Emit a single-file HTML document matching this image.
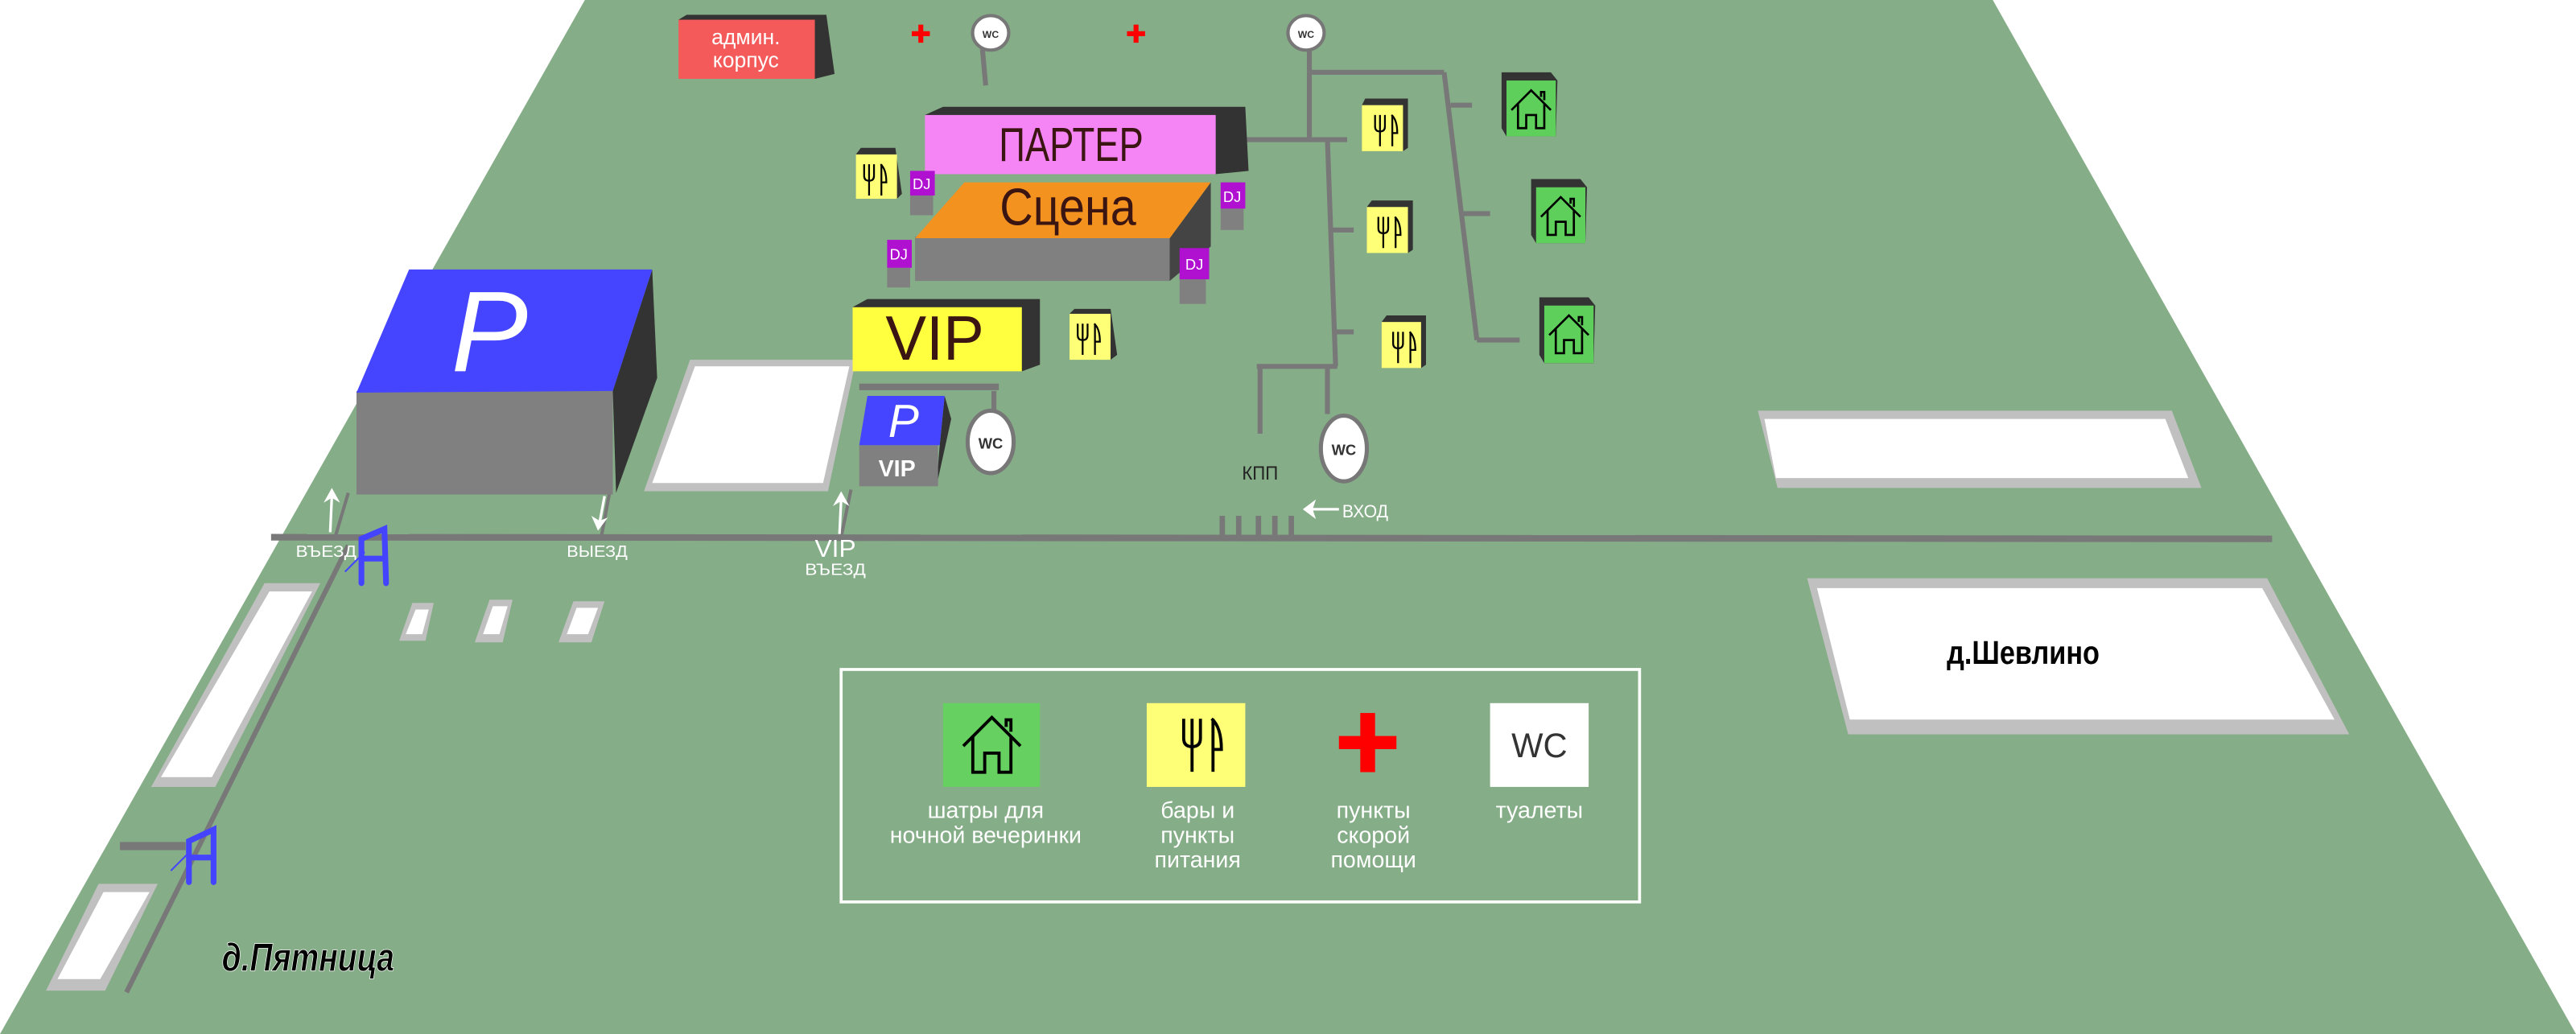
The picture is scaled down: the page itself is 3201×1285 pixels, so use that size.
<!DOCTYPE html>
<html><head><meta charset="utf-8"><style>html,body{margin:0;padding:0;background:#fff}svg{display:block}</style></head>
<body>
<svg xmlns="http://www.w3.org/2000/svg" width="3201" height="1285" viewBox="0 0 1568 629.4" preserveAspectRatio="none">
<defs>
<g id="fk"><path d="M8,5V24M5,5V12Q5,15 8,15Q11,15 11,12V5M8,5V13M15,5Q18.5,8 18.5,16H15.5M15.5,5V24" fill="none" stroke="#000" stroke-width="1.1"/></g>
<g id="hs"><path d="M3,18L15,6L27,18M21,10V7H23V12M7,14V29H12V21H18V29H23V14" fill="none" stroke="#000" stroke-width="1.3"/></g>
</defs>
<rect width="1568" height="629.4" fill="#fff"/>
<polygon points="356,0 1213,0 1568,629.4 0,629.4" fill="#85ad87"/>

<!-- roads -->
<g stroke="#787878" fill="none">
<line x1="165" y1="327" x2="1383" y2="328" stroke-width="4"/>
<line x1="212" y1="332" x2="77" y2="604" stroke-width="3"/>
<line x1="73" y1="515" x2="113" y2="515" stroke-width="5"/>
<line x1="212" y1="300" x2="204" y2="327" stroke-width="2"/>
<line x1="371" y1="300" x2="366" y2="327" stroke-width="2"/>
<line x1="518" y1="298" x2="512" y2="327" stroke-width="2"/>
<g stroke-width="3.3"><line x1="744" y1="314" x2="744" y2="328"/><line x1="754" y1="314" x2="754" y2="328"/><line x1="766" y1="314" x2="766" y2="328"/><line x1="776" y1="314" x2="776" y2="328"/><line x1="786" y1="314" x2="786" y2="328"/></g>
<g stroke-width="3">
<line x1="797" y1="30" x2="797" y2="85"/>
<line x1="797" y1="44" x2="879" y2="44"/>
<line x1="879" y1="44" x2="899" y2="207"/>
<line x1="883" y1="64" x2="896" y2="64"/>
<line x1="891" y1="130" x2="907" y2="130"/>
<line x1="899" y1="207" x2="925" y2="207"/>
<line x1="759" y1="85" x2="820" y2="85"/>
<line x1="808" y1="85" x2="813" y2="223"/>
<line x1="810" y1="140" x2="824" y2="140"/>
<line x1="812" y1="202" x2="824" y2="202"/>
<line x1="765" y1="223" x2="814" y2="223"/>
<line x1="767" y1="223" x2="767" y2="264"/>
<line x1="808" y1="223" x2="808" y2="252"/>
<line x1="598" y1="30" x2="600" y2="52"/>
<line x1="605" y1="238" x2="605" y2="250"/>
</g>
<line x1="523" y1="235.5" x2="608" y2="235.5" stroke-width="4"/>
</g>

<!-- white lots -->
<polygon points="420,219 521,219 504,299 392,299" fill="#c0c0c0"/>
<polygon points="423,223 517,223 501,294 397,294" fill="#fff"/>
<polygon points="161,355 195,355 131,479 92,479" fill="#c0c0c0"/>
<polygon points="164,360 190,360 129,473 98,473" fill="#fff"/>
<polygon points="60,538 96,538 64,603 28,603" fill="#c0c0c0"/>
<polygon points="63,543 91,543 61,596 35,596" fill="#fff"/>
<polygon points="251,367 264,367 259,390 243,390" fill="#c0c0c0"/>
<polygon points="253,371 261,371 257,386 247,386" fill="#fff"/>
<polygon points="298,365 312,365 306,391 289,391" fill="#c0c0c0"/>
<polygon points="300,369 309,369 304,386 294,386" fill="#fff"/>
<polygon points="349,366 368,366 360,391 340,391" fill="#c0c0c0"/>
<polygon points="351,370 364,370 358,386 345,386" fill="#fff"/>
<polygon points="1070,250 1322,250 1340,297 1082,297" fill="#c0c0c0"/>
<polygon points="1074,255 1318,255 1332,291 1081,291" fill="#fff"/>
<polygon points="1100,352 1380,352 1430,447 1125,447" fill="#c0c0c0"/>
<polygon points="1106,358 1377,358 1421,438 1126,438" fill="#fff"/>

<!-- big parking -->
<polygon points="373,238 397,164 400,230 375,300" fill="#333"/>
<rect x="217" y="238" width="156" height="63" fill="#808080"/>
<polygon points="249,164 397,164 373,238 217,239" fill="#4545ff"/>
<text x="298" y="226" font-family="Liberation Sans, sans-serif" font-style="italic" font-size="70" fill="#fff" text-anchor="middle">P</text>

<!-- VIP parking -->
<polygon points="572,271 575,241 579,255 570,296" fill="#333"/>
<rect x="523" y="271" width="48" height="25" fill="#808080"/>
<polygon points="528,241 575,241 572,271 523,271" fill="#4545ff"/>
<text x="550" y="266" font-family="Liberation Sans, sans-serif" font-style="italic" font-size="28" fill="#fff" text-anchor="middle">P</text>
<text x="546" y="290" font-family="Liberation Sans, sans-serif" font-weight="bold" font-size="14" fill="#fff" text-anchor="middle">VIP</text>

<!-- admin -->
<polygon points="418,9 503,9 508,45 496,48 413,12" fill="#333"/>
<rect x="413" y="12" width="83" height="36" fill="#f45a5a"/>
<text x="454" y="27" font-family="Liberation Sans, sans-serif" font-size="13" fill="#fff" text-anchor="middle">админ.</text>
<text x="454" y="41" font-family="Liberation Sans, sans-serif" font-size="13" fill="#fff" text-anchor="middle">корпус</text>

<!-- crosses -->
<g fill="#f00"><rect x="559" y="15" width="3" height="11"/><rect x="555" y="19" width="11" height="3"/><rect x="690" y="15" width="3" height="11"/><rect x="686" y="19" width="11" height="3"/></g>

<!-- WC circles -->
<g font-family="Liberation Sans, sans-serif" font-weight="bold" fill="#333" text-anchor="middle">
<ellipse cx="603" cy="20" rx="11" ry="10.5" fill="#fff" stroke="#777" stroke-width="2"/><text x="603" y="23" font-size="6">WC</text>
<ellipse cx="795" cy="20" rx="11" ry="10.5" fill="#fff" stroke="#777" stroke-width="2"/><text x="795" y="23" font-size="6">WC</text>
<ellipse cx="603" cy="269" rx="14" ry="19" fill="#fff" stroke="#777" stroke-width="2.5"/><text x="603" y="273" font-size="9">WC</text>
<ellipse cx="818" cy="273" rx="14" ry="20" fill="#fff" stroke="#777" stroke-width="2.5"/><text x="818" y="277" font-size="9">WC</text>
</g>

<!-- ПАРТЕР -->
<polygon points="574,65 758,65 760,104 740,106 563,70" fill="#333"/>
<rect x="563" y="70" width="177" height="36" fill="#f585f5"/>
<text x="652" y="98" font-family="Liberation Sans, sans-serif" font-size="29" fill="#3a1512" text-anchor="middle" textLength="88" lengthAdjust="spacingAndGlyphs">ПАРТЕР</text>

<!-- Сцена -->
<polygon points="712,145 737,111 737,150 712,171" fill="#444"/>
<rect x="557" y="144" width="155" height="27" fill="#808080"/>
<polygon points="587,111 737,111 712,145 557,145" fill="#f4921f"/>
<text x="650" y="137" font-family="Liberation Sans, sans-serif" font-size="32" fill="#3a1512" text-anchor="middle" textLength="83" lengthAdjust="spacingAndGlyphs">Сцена</text>

<!-- DJ -->
<g font-family="Liberation Sans, sans-serif" font-size="9" fill="#fff" text-anchor="middle">
<rect x="554" y="119" width="14" height="12" fill="#808080"/><rect x="554" y="104" width="15" height="15" fill="#b010d0"/><text x="561" y="115">DJ</text>
<rect x="743" y="127" width="14" height="13" fill="#808080"/><rect x="743" y="111" width="15" height="16" fill="#b010d0"/><text x="750" y="123">DJ</text>
<rect x="540" y="163" width="14" height="12" fill="#808080"/><rect x="540" y="146" width="15" height="17" fill="#b010d0"/><text x="547" y="158">DJ</text>
<rect x="718" y="170" width="16" height="15" fill="#808080"/><rect x="718" y="151" width="18" height="19" fill="#b010d0"/><text x="727" y="164">DJ</text>
</g>

<!-- VIP -->
<polygon points="528,182 633,182 633,222 622,226 519,187" fill="#333"/>
<rect x="519" y="187" width="103" height="39" fill="#ffff40"/>
<text x="569" y="219" font-family="Liberation Sans, sans-serif" font-size="38" fill="#3a1512" text-anchor="middle" textLength="60" lengthAdjust="spacingAndGlyphs">VIP</text>

<!-- food cubes -->
<g>
<polygon points="524,90 545,90 549,118 546,121 521,94" fill="#333"/><rect x="521" y="94" width="25" height="27" fill="#ffff77"/><use href="#fk" x="521" y="95"/>
<polygon points="654,188 676,188 680,216 676,219 651,191" fill="#333"/><rect x="651" y="191" width="25" height="28" fill="#ffff77"/><use href="#fk" x="651" y="192"/>
<polygon points="831,60 857,60 857,90 854,92 829,64" fill="#333"/><rect x="829" y="64" width="25" height="28" fill="#ffff77"/><use href="#fk" x="832" y="65"/>
<polygon points="835,122 860,122 860,152 857,154 832,126" fill="#333"/><rect x="832" y="126" width="25" height="28" fill="#ffff77"/><use href="#fk" x="834" y="127"/>
<polygon points="844,192 868,192 868,222 865,224 841,196" fill="#333"/><rect x="841" y="196" width="24" height="28" fill="#ffff77"/><use href="#fk" x="843" y="197"/>
</g>
<!-- houses -->
<g>
<polygon points="914,44 944,44 948,49 947,83 917,83 914,78" fill="#333"/><rect x="917" y="49" width="30" height="34" fill="#5ecf5a"/><use href="#hs" x="917" y="49"/>
<polygon points="932,109 962,109 966,114 965,148 935,148 932,143" fill="#333"/><rect x="935" y="114" width="30" height="34" fill="#5ecf5a"/><use href="#hs" x="935" y="114"/>
<polygon points="937,181 967,181 971,186 970,221 940,221 937,216" fill="#333"/><rect x="940" y="186" width="30" height="35" fill="#5ecf5a"/><use href="#hs" x="940" y="186"/>
</g>

<!-- labels -->
<g font-family="Liberation Sans, sans-serif" fill="#fff">
<text x="756" y="292" font-size="12" fill="#222" textLength="22" lengthAdjust="spacingAndGlyphs">КПП</text>
<text x="817" y="315" font-size="11" textLength="28" lengthAdjust="spacingAndGlyphs">ВХОД</text>
<text x="180" y="339" font-size="10" textLength="37" lengthAdjust="spacingAndGlyphs">ВЪЕЗД</text>
<text x="345" y="339" font-size="10" textLength="37" lengthAdjust="spacingAndGlyphs">ВЫЕЗД</text>
<text x="496" y="339" font-size="15" textLength="25" lengthAdjust="spacingAndGlyphs">VIP</text>
<text x="490" y="350" font-size="10" textLength="37" lengthAdjust="spacingAndGlyphs">ВЪЕЗД</text>
</g>
<g stroke="#fff" stroke-width="1.6" fill="#fff">
<line x1="815" y1="310" x2="798" y2="310"/><polygon points="793,310 801,304 799,310 801,316" stroke="none"/>
<line x1="201" y1="324" x2="202" y2="302"/><polygon points="202,297 197,306 202,303 207,306" stroke="none"/>
<line x1="368" y1="302" x2="365" y2="318"/><polygon points="364,323 360,314 365,317 370,315" stroke="none"/>
<line x1="511" y1="325" x2="512" y2="304"/><polygon points="512,299 507,308 512,305 517,308" stroke="none"/>
</g>
<!-- A symbols -->
<g fill="none" stroke="#4444ff" stroke-width="3.5" stroke-linecap="round">
<path d="M220,355L220,328L234,322L235,355M220,340H234"/>
<path d="M115,537L115,512L130,505L130,537M115,522H130"/>
</g>
<g stroke="#4444ff" stroke-width="1"><line x1="210" y1="348" x2="222" y2="336"/><line x1="104" y1="530" x2="116" y2="518"/></g>

<!-- town names -->
<text x="1185" y="404" font-family="Liberation Sans, sans-serif" font-weight="bold" font-size="20" fill="#000" textLength="93" lengthAdjust="spacingAndGlyphs">д.Шевлино</text>
<text x="135" y="591" font-family="Liberation Sans, sans-serif" font-weight="bold" font-style="italic" font-size="24" fill="#000" stroke="#fff" stroke-width="0.4" textLength="105" lengthAdjust="spacingAndGlyphs">д.Пятница</text>

<!-- legend -->
<rect x="512" y="407.5" width="486" height="141.5" fill="none" stroke="#fff" stroke-width="1.8"/>
<rect x="574" y="428" width="59" height="51" fill="#66d160"/>
<g transform="translate(582,428) scale(1.45)"><use href="#hs"/></g>
<rect x="698" y="428" width="60" height="51" fill="#ffff77"/>
<g transform="translate(712,429) scale(1.7)"><use href="#fk"/></g>
<rect x="828" y="434" width="9" height="36" fill="#f00"/><rect x="815" y="448" width="35" height="8" fill="#f00"/>
<rect x="907" y="428" width="60" height="51" fill="#fff"/>
<text x="937" y="461" font-family="Liberation Sans, sans-serif" font-size="21" fill="#333" text-anchor="middle" textLength="34" lengthAdjust="spacingAndGlyphs">WC</text>
<g font-family="Liberation Sans, sans-serif" font-size="14" fill="#fff" text-anchor="middle">
<text x="600" y="498">шатры для</text><text x="600" y="513">ночной вечеринки</text>
<text x="729" y="498">бары и</text><text x="729" y="513">пункты</text><text x="729" y="528">питания</text>
<text x="836" y="498">пункты</text><text x="836" y="513">скорой</text><text x="836" y="528">помощи</text>
<text x="937" y="498">туалеты</text>
</g>
</svg>
</body></html>
